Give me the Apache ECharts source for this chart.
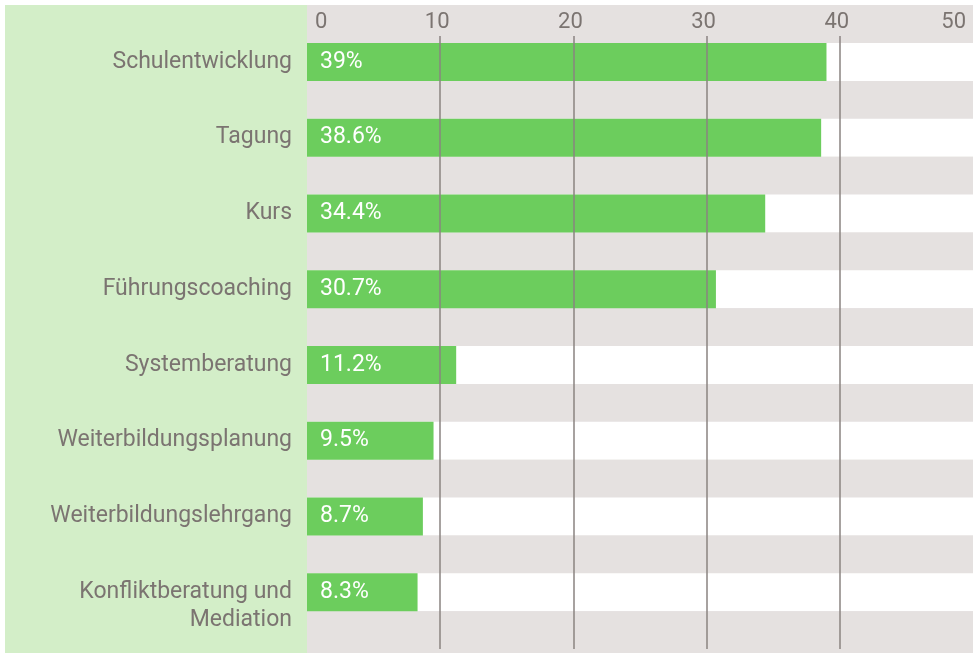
<!DOCTYPE html>
<html>
<head>
<meta charset="utf-8">
<script src="https://cdn.jsdelivr.net/npm/echarts@6/dist/echarts.min.js"></script>
<style>
  html, body { margin: 0; padding: 0; background: #ffffff; }
  #chart { width: 978px; height: 653px; }
</style>
</head>
<body>
<div id="chart"></div>
<script>
// ---- data ----
const categories = [
  'Schulentwicklung',
  'Tagung',
  'Kurs',
  'Führungscoaching',
  'Systemberatung',
  'Weiterbildungsplanung',
  'Weiterbildungslehrgang',
  'Konfliktberatung und\nMediation'
];
const values = [39, 38.6, 34.4, 30.7, 11.2, 9.5, 8.7, 8.3];
const xTicks = [0, 10, 20, 30, 40, 50];

// ---- build ----
const TEXT = '#7b7471';
const FONT = 'Roboto';
const GAP = '__gap';
const yCats = [];
const barData = [];
categories.forEach((c, i) => {
  yCats.push(c); yCats.push(GAP + i);
  barData.push(values[i]); barData.push('-');
});

const chart = echarts.init(document.getElementById('chart'), null, { renderer: 'canvas' });
chart.setOption({
  animation: false,
  backgroundColor: '#ffffff',
  graphic: [
    { type: 'rect', z: -10, shape: { x: 5, y: 5, width: 302, height: 648 }, style: { fill: '#d3eec8' }, silent: true },
    { type: 'rect', z: -10, shape: { x: 307, y: 5, width: 666, height: 648 }, style: { fill: '#e5e1e0' }, silent: true }
  ],
  grid: { left: 307, right: 5, top: 43, bottom: 4, containLabel: false },
  xAxis: {
    type: 'value',
    position: 'top',
    min: xTicks[0],
    max: xTicks[xTicks.length - 1],
    interval: 10,
    z: 5,
    axisLine: { show: false },
    axisTick: { show: true, length: 7, customValues: xTicks.slice(1, -1), lineStyle: { color: '#8a8381', width: 1.5 } },
    splitLine: { show: true, lineStyle: { color: '#8a8381', width: 1.5 } },
    axisLabel: {
      margin: 10,
      color: TEXT, fontFamily: FONT, fontSize: 22,
      alignMinLabel: 'left', alignMaxLabel: 'right',
      formatter: v => v === xTicks[0] ? '{l|' + v + '}' : (v === xTicks[xTicks.length - 1] ? '{r|' + v + '}' : '{m|' + v + '}'),
      rich: {
        l: { padding: [0, 0, 0, 8], color: TEXT, fontFamily: FONT, fontSize: 22 },
        r: { padding: [0, 7, 0, 0], color: TEXT, fontFamily: FONT, fontSize: 22 },
        m: { padding: [0, 6, 0, 0], color: TEXT, fontFamily: FONT, fontSize: 22 }
      }
    }
  },
  yAxis: {
    type: 'category',
    data: yCats,
    inverse: true,
    z: 0,
    axisLine: { show: false },
    axisTick: { show: false },
    splitLine: { show: false },
    splitArea: { show: true, areaStyle: { color: ['#ffffff', '#e5e1e0'] } },
    axisLabel: {
      interval: 0,
      margin: 15,
      color: TEXT, fontFamily: FONT, fontSize: 23, lineHeight: 28,
      formatter: v => v.indexOf(GAP) === 0 ? '' : (v.indexOf('\n') >= 0 ? ' \n' + v : v)
    }
  },
  series: [{
    type: 'bar',
    data: barData,
    barWidth: '100%',
    barCategoryGap: 0,
    itemStyle: { color: '#6ccd5d' },
    label: {
      show: true,
      position: 'insideLeft',
      distance: 13,
      color: '#ffffff', fontFamily: FONT, fontSize: 23,
      formatter: p => p.value + '%'
    }
  }]
});
</script>
</body>
</html>
